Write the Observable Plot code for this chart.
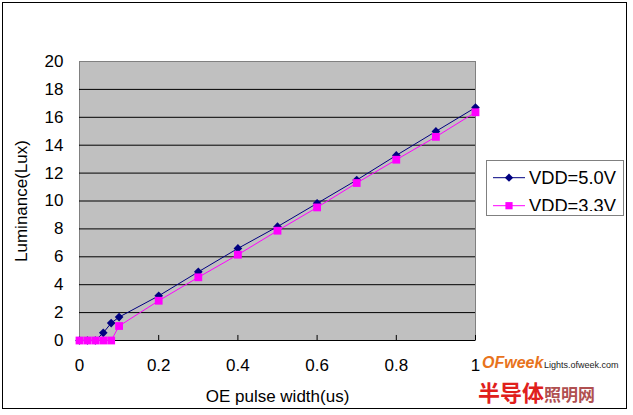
<!DOCTYPE html>
<html>
<head>
<meta charset="utf-8">
<script src="https://cdn.jsdelivr.net/npm/d3@7"></script>
<script src="https://cdn.jsdelivr.net/npm/@observablehq/plot@0.6"></script>
<style>
  html, body { margin: 0; padding: 0; background: #fff; }
  #wrap { position: relative; width: 633px; height: 415px; overflow: hidden; font-family: "Liberation Sans", Arial, sans-serif; }
  #border { position: absolute; left: 2px; top: 2px; width: 625px; height: 407px; border: 1px solid #000; box-sizing: border-box; pointer-events: none; }
  #chart { position: absolute; left: 0; top: 0; }
  #legend { position: absolute; left: 486px; top: 160px; }
  #wm { position: absolute; left: 482px; top: 352px; width: 150px; height: 60px; }
</style>
</head>
<body>
<div id="wrap">
  <div id="chart"></div>
  <div id="border"></div>
  <div id="legend"></div>
  <div id="wm">
    <div style="position:absolute;left:0px;top:2px;font:italic bold 16px 'Liberation Sans',Arial,sans-serif;color:#e8731c;">OFweek</div>
    <div style="position:absolute;left:62px;top:8px;font:9px 'Liberation Sans',Arial,sans-serif;color:#222;">Lights.ofweek.com</div>
    <div style="position:absolute;left:-4px;top:26px;font:bold 22px 'Noto Sans CJK SC',sans-serif;color:#e0201c;line-height:26px;">半导体<span style="color:#b05050;font-size:17px;">照明网</span></div>
  </div>
</div>
<script>
// Data
const xVdd50 = [0, 0.02, 0.04, 0.06, 0.08, 0.1, 0.2, 0.3, 0.4, 0.5, 0.6, 0.7, 0.8, 0.9, 1.0];
const yVdd50 = [0, 0, 0, 0.55, 1.25, 1.68, 3.2, 4.92, 6.6, 8.16, 9.83, 11.5, 13.27, 14.99, 16.7];
const xVdd33 = [0, 0.02, 0.04, 0.06, 0.08, 0.1, 0.2, 0.3, 0.4, 0.5, 0.6, 0.7, 0.8, 0.9, 1.0];
const yVdd33 = [0, 0, 0, 0, 0, 1.04, 2.85, 4.53, 6.15, 7.87, 9.54, 11.29, 12.96, 14.6, 16.36];
const seriesNames = ["VDD=5.0V", "VDD=3.3V"];
const seriesColors = ["#000080", "#ff00ff"];
const seriesSymbols = ["diamond2", "square"];
const xTicks = [0, 0.2, 0.4, 0.6, 0.8, 1];
const xTickLabels = ["0", "0.2", "0.4", "0.6", "0.8", "1"];
const yTicks = [0, 2, 4, 6, 8, 10, 12, 14, 16, 18, 20];
const xTitle = "OE pulse width(us)";
const yTitle = "Luminance(Lux)";

const s50 = xVdd50.map((x, i) => ({x, y: yVdd50[i]}));
const s33 = xVdd33.map((x, i) => ({x, y: yVdd33[i]}));

const chart = Plot.plot({
  width: 633,
  height: 415,
  marginLeft: 79,
  marginRight: 158,
  marginTop: 61,
  marginBottom: 75,
  style: {fontFamily: "'Liberation Sans', Arial, sans-serif", fontSize: "17px", background: "transparent", color: "#000", overflow: "visible"},
  x: {domain: [0, 1]},
  y: {domain: [0, 20]},
  marks: [
    Plot.frame({fill: "#c0c0c0", stroke: "#808080"}),
    Plot.ruleY(yTicks.filter(d => d > 0 && d < 20), {stroke: "#000", strokeWidth: 1}),
    Plot.ruleY([0], {stroke: "#000", strokeWidth: 1}),
    Plot.ruleX(xTicks.filter(d => d > 0), {y1: 0, y2: 0.36, stroke: "#000"}),
    Plot.axisX({ticks: xTicks, tickFormat: d => xTickLabels[xTicks.indexOf(d)], tickSize: 0, tickPadding: 18,
      label: xTitle, labelAnchor: "center", labelOffset: 61, labelArrow: "none", fontSize: 17}),
    Plot.axisY({ticks: yTicks, tickSize: 0, tickPadding: 16,
      label: yTitle, labelAnchor: "center", labelOffset: 65, labelArrow: "none", fontSize: 17}),
    Plot.line(s50, {x: "x", y: "y", stroke: seriesColors[0], strokeWidth: 1}),
    Plot.dot(s50, {x: "x", y: "y", symbol: seriesSymbols[0], r: 3.9, fill: seriesColors[0], stroke: "none"}),
    Plot.line(s33, {x: "x", y: "y", stroke: seriesColors[1], strokeWidth: 1}),
    Plot.dot(s33, {x: "x", y: "y", symbol: seriesSymbols[1], r: 4.4, fill: seriesColors[1], stroke: "none"})
  ]
});
document.getElementById("chart").appendChild(chart);

// Legend (box 138x56, second row clipped at the bottom as in the reference)
const lg = d3.select("#legend").append("svg").attr("width", 138).attr("height", 57)
  .style("font-family", "'Liberation Sans', Arial, sans-serif");
lg.append("defs").append("clipPath").attr("id", "lgclip")
  .append("rect").attr("x", 1).attr("y", 1).attr("width", 136).attr("height", 50);
lg.append("rect").attr("x", 0.5).attr("y", 0.5).attr("width", 137).attr("height", 55)
  .attr("fill", "#fff").attr("stroke", "#808080");
const symTypes = [d3.symbolDiamond2, d3.symbolSquare];
const symSizes = [44, 52];
seriesNames.forEach((name, i) => {
  const cy = 17.7 + i * 28;
  const g = lg.append("g").attr("clip-path", "url(#lgclip)");
  g.append("line").attr("x1", 7).attr("x2", 39).attr("y1", cy).attr("y2", cy)
    .attr("stroke", seriesColors[i]).attr("stroke-width", 1);
  g.append("path").attr("d", d3.symbol().type(symTypes[i]).size(symSizes[i])())
    .attr("transform", `translate(23,${cy})`).attr("fill", seriesColors[i]);
  g.append("text").attr("x", 43).attr("y", cy + 6.6).attr("font-size", 18.3).attr("fill", "#000").text(name);
});
</script>
</body>
</html>
